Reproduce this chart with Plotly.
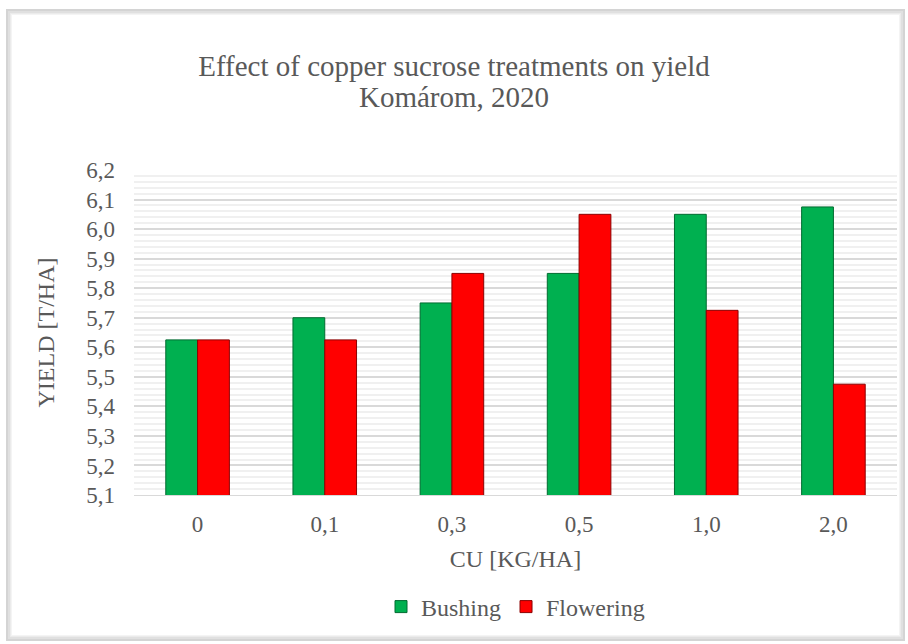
import plotly.graph_objects as go

# ---------- data ----------
doses = ["0", "0,1", "0,3", "0,5", "1,0", "2,0"]
bushing = [5.625, 5.70, 5.75, 5.85, 6.05, 6.075]
flowering = [5.625, 5.625, 5.85, 6.05, 5.725, 5.475]
y_ticks = [5.1, 5.2, 5.3, 5.4, 5.5, 5.6, 5.7, 5.8, 5.9, 6.0, 6.1, 6.2]

W, H = 908, 644
L, R, T, B = 134, 11, 170, 149
FONT = "Liberation Serif, Times New Roman, serif"
GREY = "#595959"


def px(x):
    return (x - L) / (W - L - R)


def py(y):
    return (H - B - y) / (H - T - B)


fig = go.Figure()
fig.add_trace(go.Bar(x=doses, y=bushing, name="Bushing",
                     marker=dict(color="#00b050", line=dict(color="#006b30", width=1))))
fig.add_trace(go.Bar(x=doses, y=flowering, name="Flowering",
                     marker=dict(color="#ff0000", line=dict(color="#8c0000", width=1))))

# chart frame with soft shadow
shapes = []
for off, col in [(4, "#f4f4f4"), (3, "#ebebeb"), (2, "#e0e0e0")]:
    shapes.append(dict(type="rect", xref="paper", yref="paper", layer="below",
                       x0=px(7 + off), x1=px(904 - off), y0=py(640 - off), y1=py(10 + off),
                       line=dict(color=col, width=2), fillcolor="rgba(0,0,0,0)"))
shapes.append(dict(type="rect", xref="paper", yref="paper", layer="below",
                   x0=px(7), x1=px(904), y0=py(640), y1=py(10),
                   line=dict(color="#d4d4d4", width=2), fillcolor="rgba(0,0,0,0)"))

fig.update_layout(
    width=W, height=H,
    margin=dict(l=L, r=R, t=T, b=B),
    paper_bgcolor="white", plot_bgcolor="white",
    separators=",.",
    barmode="group", bargap=0.5, bargroupgap=0,
    font=dict(family=FONT, color=GREY),
    title=dict(text="Effect of copper sucrose treatments on yield",
               x=0.5, xanchor="center", y=1 - 66 / H, yanchor="middle",
               font=dict(size=29, family=FONT, color=GREY)),
    annotations=[dict(text="Komárom, 2020", xref="paper", yref="paper",
                      x=px(454), y=py(97), xanchor="center", yanchor="middle",
                      showarrow=False, font=dict(size=29, family=FONT, color=GREY))],
    legend=dict(orientation="h", x=0.5, xanchor="center", y=py(607), yanchor="middle",
                font=dict(size=24, family=FONT, color=GREY), itemwidth=30,
                bgcolor="rgba(0,0,0,0)"),
    shapes=shapes,
)

fig.update_xaxes(
    showgrid=False, showline=True, linecolor="#d9d9d9", linewidth=1,
    tickfont=dict(size=23, family=FONT, color=GREY), ticks="", ticklabelstandoff=8,
    title=dict(text="CU [KG/HA]", font=dict(size=24, family=FONT, color=GREY), standoff=14),
)
fig.update_yaxes(
    range=[5.1, 6.2], tickvals=y_ticks, tickformat=".1f",
    showgrid=True, gridcolor="#d9d9d9", gridwidth=1.5, zeroline=False,
    minor=dict(dtick=0.02, tick0=5.1, showgrid=True, gridcolor="#f0f0f0", gridwidth=1.5),
    tickfont=dict(size=23, family=FONT, color=GREY), ticks="", ticklabelstandoff=18,
    title=dict(text="YIELD [T/HA]", font=dict(size=24, family=FONT, color=GREY), standoff=24),
)

fig.write_html("out.html", config={"displayModeBar": False},
               post_script="document.body.style.margin='0';")
